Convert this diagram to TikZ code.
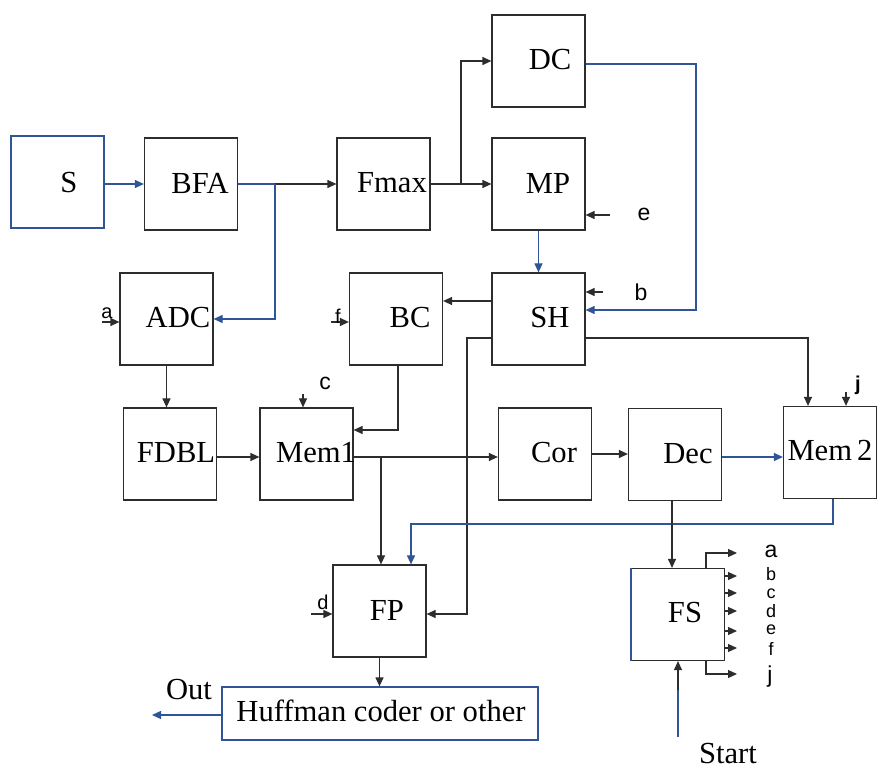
\documentclass[tikz,border=0pt]{standalone}
\usepackage{fontspec}
\setmainfont{Liberation Serif}
\newfontfamily\labsans{Liberation Sans}
\usetikzlibrary{arrows.meta}
\definecolor{ln}{RGB}{45,45,45}
\definecolor{bl}{RGB}{47,85,151}
\begin{document}
\begin{tikzpicture}[x=0.5pt,y=-0.5pt,
  blk/.style={draw=ln,line width=0.6pt,minimum width=46.5pt,minimum height=46pt,inner sep=0pt},
  txt/.style={font=\fontsize{15.3}{17}\selectfont,inner sep=0pt},
  sml/.style={font=\labsans\fontsize{11.5}{12}\selectfont,inner sep=0pt},
  tny/.style={font=\labsans\fontsize{10}{10}\selectfont,inner sep=0pt},
  fsl/.style={font=\labsans\fontsize{9}{9}\selectfont,inner sep=0pt},
  wire/.style={draw=ln,line width=0.6pt},
  bwire/.style={draw=bl,line width=0.6pt},
  arr/.style={-{Triangle[length=4.5pt,width=4pt]}},
]
\useasboundingbox (0,0) rectangle (878,769);
% boxes
\node[blk,draw=bl] (s) at (57.5,182) {};
\node[blk] (bfa) at (191,184) {};
\node[blk] (fmax) at (383.5,184) {};
\node[blk] (dc) at (538.5,61) {};
\node[blk] (mp) at (538.5,184) {};
\node[blk] (sh) at (538.5,319) {};
\node[blk] (adc) at (166.5,319) {};
\node[blk] (bc) at (396,319) {};
\node[blk] (fdbl) at (170,454) {};
\node[blk] (mem1) at (306.5,454) {};
\node[blk] (cor) at (545,454) {};
\node[blk] (dec) at (675,454.5) {};
\node[blk] (mem2) at (830,452.5) {};
\node[blk] (fp) at (379.5,611) {};
\node[blk] (fs) at (678,614.5) {};
\draw[bl,line width=0.6pt] (fs.north west) -- (fs.south west);
\node[blk,draw=bl,minimum width=158pt,minimum height=26.5pt] (huff) at (380,713.5) {};
% box texts
\node[txt] (s-t) at (69,183) {S};
\node[txt] (bfa-t) at (200,183) {BFA};
\node[txt] (fmax-t) at (392,183) {Fmax};
\node[txt] (dc-t) at (550,60) {DC};
\node[txt] (mp-t) at (548,183) {MP};
\node[txt] (sh-t) at (550,318) {SH};
\node[txt] (adc-t) at (178,318) {ADC};
\node[txt] (bc-t) at (410,318) {BC};
\node[txt] (fdbl-t) at (176,453) {FDBL};
\node[txt] (mem1-t) at (316,453) {Mem1};
\node[txt] (cor-t) at (554,453) {Cor};
\node[txt] (dec-t) at (688,454) {Dec};
\node[txt] (mem2-t) at (830,451) {Mem\,2};
\node[txt] (fp-t) at (387,610) {FP};
\node[txt] (fs-t) at (685,613) {FS};
\node[txt] (huff-t) at (381,711) {Huffman coder or other};
\node[txt] (out-t) at (189,690) {Out};
\node[txt] (start-t) at (728,754) {Start};
% top row
\draw[bwire,arr] (s.east |- bfa.west) -- (bfa.west);
\coordinate (br1) at (275,184);
\draw[bwire] (bfa.east) -- (br1);
\draw[wire,arr] (br1) -- (fmax.west);
\draw[bwire,arr] (br1) |- (adc.east);
\draw[wire,arr] (fmax.east) -- (mp.west);
\draw[wire,arr] (461,184) |- (dc.west);
\draw[bwire,arr] (dc.east |- 0,64) -| (696,310) -- (sh.east |- 0,310);
\draw[bwire,arr] (mp.south) -- (sh.north);
\coordinate (e0) at (610,215);
\draw[wire,arr] (e0) -- (e0 -| mp.east);
\node[sml] (e) at (644,214) {e};
\coordinate (b0) at (603,292);
\draw[wire,arr] (b0) -- (b0 -| sh.east);
\node[sml] (b) at (641,292) {b};
% SH outputs
\draw[wire,arr] (sh.west |- 0,301) -- (bc.east |- 0,301);
\draw[wire,arr] (sh.west |- 0,338) -- (467,338) -- (467,614) -- (fp.east |- 0,614);
\draw[wire,arr] (sh.east |- 0,338) -| (mem2.north -| 808,0);
% side inputs
\coordinate (a0) at (102,322);
\draw[wire,arr] (a0) -- (a0 -| adc.west);
\node[tny] (a) at (107,313) {a};
\coordinate (f0) at (331,322);
\draw[wire,arr] (f0) -- (f0 -| bc.west);
\node[tny] (f) at (338,316) {f};
\coordinate (c0) at (303,394);
\draw[wire,arr] (c0) -- (c0 |- mem1.north);
\node[sml] (c) at (325,383) {c};
\coordinate (j0) at (846,392);
\draw[wire,arr] (j0) -- (j0 |- mem2.north);
\node[sml,font=\labsans\bfseries\fontsize{10}{10}\selectfont] (j) at (858,385) {j};
\coordinate (d0) at (311,614);
\draw[wire,arr] (d0) -- (d0 -| fp.west);
\node[tny] (d) at (323,602) {d};
% middle row
\draw[wire,arr] (adc.south) -- (adc.south |- fdbl.north);
\draw[wire,arr] (fdbl.east |- 0,457) -- (mem1.west |- 0,457);
\draw[wire,arr] (bc.south -| 398,0) |- (mem1.east |- 0,430);
\draw[wire,arr] (mem1.east |- 0,457) -- (cor.west |- 0,457);
\draw[wire,arr] (381,457) -- (fp.north -| 381,0);
\draw[wire,arr] (cor.east |- 0,454) -- (dec.west |- 0,454);
\draw[bwire,arr] (dec.east |- 0,457) -- (mem2.west |- 0,457);
\draw[bwire,arr] (mem2.south -| 833,0) |- (411,524) -- (fp.north -| 411,0);
\draw[wire,arr] (dec.south -| 672,0) -- (fs.north -| 672,0);
% FS outputs
\draw[wire,arr] (fs.north -| 706,0) |- (737,553);
\node[sml] (fa) at (771,551) {a};
\foreach \yy/\ly/\ll in {576/574/b,593/594/c,611/611/d,631/630/e,648/649/f}{
  \draw[wire,arr] (fs.east |- 0,\yy) -- (737,\yy);
  \node[fsl] (f\ll) at (771,\ly) {\ll};
}
\draw[wire,arr] (fs.south -| 706,0) |- (737,674);
\node[sml] (fj) at (770,677) {j};
\coordinate (st0) at (678,737);
\draw[bwire] (st0) -- (678,690);
\draw[wire,arr] (678,690) -- (st0 |- fs.south);
% bottom
\draw[wire,arr] (fp.south) -- (fp.south |- huff.north);
\draw[bwire,arr] (huff.west |- 0,715) -- (152,715);
\end{tikzpicture}
\end{document}
